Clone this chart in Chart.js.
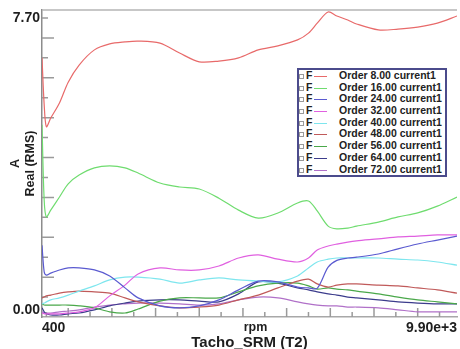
<!DOCTYPE html>
<html>
<head>
<meta charset="utf-8">
<script src="https://cdn.jsdelivr.net/npm/chart.js@4"></script>
<style>
  html, body { margin: 0; padding: 0; background: #fff; overflow: hidden; }
  #wrap { position: relative; width: 460px; height: 349px; }
  #legend {
    position: absolute; left: 297px; top: 68px; width: 146px; height: 105px;
    border: 2px solid #4b4b8c; background: #fff; overflow: hidden;
    font: bold 10.5px "Liberation Sans", Arial, sans-serif; color: #222;
  }
  .row { position: relative; height: 11.7px; line-height: 11.7px; white-space: nowrap; }
  .sq { position: absolute; left: 0; top: 4px; width: 3px; height: 3px; border: 1px solid #9a9a9a; }
  .f { position: absolute; left: 7px; }
  .ln { position: absolute; left: 15px; top: 6px; width: 13px; height: 1px; }
  .tx { position: absolute; left: 40px; }
</style>
</head>
<body>
<div id="wrap">
  <canvas id="chart" width="460" height="349"></canvas>
  <div id="legend"></div>
</div>
<script>
// rpm sample points along Tacho_SRM (T2)
const rpm = [400, 450, 500, 600, 800, 1000, 1250, 1600, 1950, 2300, 2600, 3100, 3550, 4000, 4450,
  4900, 5350, 5800, 6250, 6500, 6700, 6950, 7150, 7400, 7600, 8100, 8550, 9000, 9450, 9900];

// Real (RMS) values in A, one array per order
const order8 = [6.50, 5.32, 4.77, 4.99, 5.37, 5.89, 6.32, 6.70, 6.85, 6.90, 6.92, 6.87, 6.62, 6.40, 6.42,
  6.50, 6.70, 6.80, 6.95, 7.12, 7.37, 7.65, 7.55, 7.45, 7.35, 7.20, 7.22, 7.27, 7.37, 7.55];
const order16 = [4.82, 2.93, 2.51, 2.68, 3.01, 3.34, 3.56, 3.74, 3.79, 3.74, 3.61, 3.36, 3.26, 3.21, 2.98,
  2.68, 2.48, 2.61, 2.86, 2.91, 2.66, 2.28, 2.21, 2.23, 2.28, 2.38, 2.51, 2.61, 2.78, 3.01];
const order24 = [1.80, 1.13, 1.05, 1.10, 1.18, 1.23, 1.23, 1.18, 1.03, 0.73, 0.48, 0.28, 0.23, 0.28, 0.43,
  0.68, 0.90, 0.88, 0.75, 0.73, 0.72, 1.25, 1.42, 1.48, 1.50, 1.58, 1.71, 1.83, 1.93, 2.03];
const order32 = [0.10, 0.08, 0.08, 0.08, 0.08, 0.10, 0.13, 0.23, 0.53, 0.80, 1.08, 1.23, 1.18, 1.18, 1.28,
  1.48, 1.56, 1.45, 1.38, 1.48, 1.68, 1.78, 1.83, 1.88, 1.91, 1.96, 2.01, 2.03, 2.06, 2.06];
const order40 = [0.33, 0.35, 0.38, 0.43, 0.48, 0.55, 0.65, 0.78, 0.93, 1.00, 1.00, 0.95, 0.85, 0.93, 0.98,
  0.93, 0.90, 0.88, 1.03, 1.23, 1.38, 1.45, 1.48, 1.48, 1.48, 1.48, 1.45, 1.43, 1.38, 1.30];
const order48 = [0.48, 0.50, 0.53, 0.55, 0.60, 0.63, 0.65, 0.63, 0.60, 0.48, 0.38, 0.28, 0.23, 0.25, 0.30,
  0.43, 0.55, 0.73, 0.90, 0.95, 0.83, 0.75, 0.80, 0.83, 0.83, 0.80, 0.78, 0.73, 0.68, 0.60];
const order56 = [0.33, 0.30, 0.30, 0.30, 0.30, 0.30, 0.28, 0.23, 0.13, 0.10, 0.20, 0.40, 0.48, 0.48, 0.48,
  0.63, 0.78, 0.85, 0.85, 0.78, 0.70, 0.73, 0.70, 0.68, 0.65, 0.58, 0.50, 0.43, 0.38, 0.33];
const order64 = [0.23, 0.13, 0.08, 0.05, 0.05, 0.08, 0.10, 0.18, 0.28, 0.35, 0.40, 0.43, 0.43, 0.40, 0.38,
  0.58, 0.88, 0.85, 0.73, 0.68, 0.63, 0.58, 0.55, 0.50, 0.48, 0.43, 0.38, 0.35, 0.33, 0.33];
const order72 = [0.13, 0.10, 0.10, 0.10, 0.13, 0.15, 0.18, 0.25, 0.30, 0.33, 0.35, 0.35, 0.33, 0.30, 0.33,
  0.43, 0.50, 0.48, 0.38, 0.33, 0.30, 0.28, 0.28, 0.25, 0.25, 0.23, 0.18, 0.13, 0.13, 0.13];

const orders = [8, 16, 24, 32, 40, 48, 56, 64, 72];
const seriesValues = [order8, order16, order24, order32, order40, order48, order56, order64, order72];
const lineColors = ['#e86a6a', '#6fdc6f', '#5a5ad0', '#e060e0', '#7ee6ee', '#c05a5a', '#4aa84a', '#3c3c8c', '#b070c8'];

// axis labels
const xTickValues = [400, 9900];
const xTickLabels = ['400', '9.90e+3'];
const yTickValues = [0, 7.7];
const yTickLabels = ['0.00', '7.70'];

const FONT = '"Liberation Sans", Arial, sans-serif';

// tick marks inside the plot, value labels, top frame line, unit text
const axisDecor = {
  id: 'axisDecor',
  beforeDatasetsDraw(chart) {
    const { ctx, chartArea: a, scales: { x, y } } = chart;
    ctx.save();
    ctx.strokeStyle = '#b4b4b4';
    ctx.lineWidth = 1.5;
    ctx.beginPath();
    ctx.moveTo(a.left, a.top);
    ctx.lineTo(a.right, a.top);
    ctx.stroke();

    ctx.strokeStyle = '#9a9a9a';
    ctx.lineWidth = 1.5;
    ctx.beginPath();
    for (let v = 0.5; v < y.max; v += 0.5) {
      const py = y.getPixelForValue(v);
      const len = Number.isInteger(v) ? 12 : 6;
      ctx.moveTo(a.left, py);
      ctx.lineTo(a.left + len, py);
    }
    for (let r = 500; r < x.max; r += 500) {
      const px = x.getPixelForValue(r);
      const len = r % 1000 === 0 ? 9 : 5;
      ctx.moveTo(px, a.bottom);
      ctx.lineTo(px, a.bottom - len);
    }
    ctx.stroke();

    ctx.fillStyle = '#1e1e1e';
    ctx.font = 'bold 14px ' + FONT;
    ctx.textAlign = 'right';
    ctx.textBaseline = 'middle';
    ctx.fillText(yTickLabels[0], a.left - 2, y.getPixelForValue(yTickValues[0]) - 7);
    ctx.fillText(yTickLabels[1], a.left - 2, y.getPixelForValue(yTickValues[1]) + 8);

    ctx.font = 'bold 12.5px ' + FONT;
    ctx.textAlign = 'center';
    ctx.fillText('rpm', (a.left + a.right) / 2 + 6, a.bottom + 11);
    ctx.restore();
  }
};

const ctx = document.getElementById('chart').getContext('2d');
const chart = new Chart(ctx, {
  type: 'line',
  data: {
    datasets: orders.map((o, i) => ({
      label: `Order ${o.toFixed(2)} current1`,
      data: rpm.map((r, j) => ({ x: r, y: seriesValues[i][j] })),
      borderColor: lineColors[i],
      borderWidth: 1.2,
      pointRadius: 0,
      fill: false,
      tension: 0.3
    }))
  },
  options: {
    responsive: false,
    animation: false,
    devicePixelRatio: 1,
    layout: { padding: { top: 10, left: 0, right: 0, bottom: 0 } },
    plugins: { legend: { display: false }, tooltip: { enabled: false } },
    scales: {
      x: {
        type: 'linear',
        min: 400,
        max: 9900,
        grid: { display: false, drawTicks: false },
        border: { display: true, color: '#a8a8a8', width: 1.5 },
        afterBuildTicks: (scale) => { scale.ticks = xTickValues.map((v) => ({ value: v })); },
        afterFit: (scale) => { scale.height = 32; },
        ticks: {
          align: 'inner',
          padding: 3,
          maxRotation: 0,
          color: '#1e1e1e',
          font: { family: FONT, size: 14, weight: 'bold' },
          callback: (v) => xTickLabels[xTickValues.indexOf(v)]
        },
        title: {
          display: true,
          text: 'Tacho_SRM (T2)',
          color: '#1e1e1e',
          padding: { top: 0, bottom: 0 },
          font: { family: FONT, size: 15, weight: 'bold', lineHeight: 0.8 }
        }
      },
      y: {
        min: 0,
        max: 7.7,
        grid: { display: false, drawTicks: false },
        border: { display: true, color: '#8c8c8c', width: 1.5 },
        ticks: { display: false },
        afterFit: (scale) => { scale.width = 42; },
        title: {
          display: true,
          text: ['A', 'Real (RMS)'],
          color: '#1e1e1e',
          padding: { top: 8, bottom: 0 },
          font: { family: FONT, size: 12.5, weight: 'bold', lineHeight: 1.2 }
        }
      }
    }
  },
  plugins: [axisDecor]
});

// legend box built from the chart's datasets
const legend = document.getElementById('legend');
chart.data.datasets.forEach((ds) => {
  const row = document.createElement('div');
  row.className = 'row';
  row.innerHTML = '<span class="sq"></span><span class="f">F</span>' +
    '<span class="ln" style="background:' + ds.borderColor + '"></span>' +
    '<span class="tx">' + ds.label + '</span>';
  legend.appendChild(row);
});
</script>
</body>
</html>
